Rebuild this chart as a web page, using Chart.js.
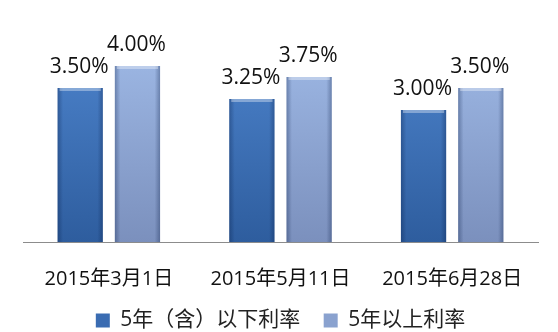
<!DOCTYPE html>
<html>
<head>
<meta charset="utf-8">
<script src="https://cdn.jsdelivr.net/npm/chart.js@4"></script>
<style>
  html, body { margin: 0; padding: 0; background: #fff; }
  #wrap { width: 558px; height: 332px; }
</style>
</head>
<body>
<div id="wrap"><canvas id="rateChart" width="558" height="332"></canvas></div>
<script>
// Data
const dates = ['2015年3月1日', '2015年5月11日', '2015年6月28日'];
const seriesNames = ['5年（含）以下利率', '5年以上利率'];
const shortRates = [3.50, 3.25, 3.00];
const longRates = [4.00, 3.75, 3.50];

const FONT = '"Open Sans", "Noto Sans CJK SC", sans-serif';

// vertical gradient over the plot area: lighter at the top
function barFill(ctx, top, bottom) {
    const area = ctx.chart.chartArea;
    if (!area) return bottom;
    const g = ctx.chart.ctx.createLinearGradient(0, area.top + 40, 0, area.bottom);
    g.addColorStop(0, top);
    g.addColorStop(1, bottom);
    return g;
}

// value labels above bars + bevel shading on the edges
const valueLabels = {
    id: 'valueLabels',
    afterDatasetsDraw(chart) {
        const c = chart.ctx;
        chart.data.datasets.forEach((ds, i) => {
            chart.getDatasetMeta(i).data.forEach((bar, j) => {
                const left = bar.x - bar.width / 2;
                const h = bar.base - bar.y;
                c.save();
                // side shading
                const g = c.createLinearGradient(left, 0, left + bar.width, 0);
                g.addColorStop(0, 'rgba(0,20,60,0.30)');
                g.addColorStop(0.12, 'rgba(0,20,60,0)');
                g.addColorStop(0.88, 'rgba(0,20,60,0)');
                g.addColorStop(1, 'rgba(0,20,60,0.30)');
                c.fillStyle = g;
                c.fillRect(left, bar.y, bar.width, h);
                // top bevel
                c.fillStyle = 'rgba(255,255,255,0.35)';
                c.fillRect(left + 2, bar.y, bar.width - 4, 3);
                c.restore();

                c.save();
                c.font = '21px ' + FONT;
                c.fillStyle = '#111';
                c.textAlign = 'center';
                c.textBaseline = 'alphabetic';
                c.fillText(ds.data[j].toFixed(2) + '%', bar.x - 1, bar.y - 15);
                c.restore();
            });
        });
    }
};

new Chart(document.getElementById('rateChart'), {
    type: 'bar',
    data: {
        labels: dates,
        datasets: [
            {
                label: seriesNames[0],
                data: shortRates,
                backgroundColor: ctx => barFill(ctx, '#4a80c8', '#2e5d9e'),
                borderWidth: 0
            },
            {
                label: seriesNames[1],
                data: longRates,
                backgroundColor: ctx => barFill(ctx, '#9bb5e2', '#7b90bd'),
                borderWidth: 0
            }
        ]
    },
    plugins: [valueLabels],
    options: {
        responsive: false,
        animation: false,
        devicePixelRatio: 1,
        categoryPercentage: 0.667,
        barPercentage: 0.79,
        layout: { padding: { left: 23, right: 20, top: 22, bottom: -9 } },
        scales: {
            x: {
                grid: { display: false, drawTicks: false },
                border: { display: true, color: '#8c8c8c', width: 1 },
                ticks: {
                    color: '#111',
                    font: { family: FONT, size: 20 },
                    padding: 25
                },
                afterFit(scale) { scale.height = 61; }
            },
            y: {
                display: false,
                min: 0,
                max: 5
            }
        },
        plugins: {
            tooltip: { enabled: false },
            legend: {
                position: 'bottom',
                labels: {
                    color: '#222',
                    font: { family: FONT, size: 21 },
                    boxWidth: 14,
                    boxHeight: 14,
                    padding: 7,
                    generateLabels(chart) {
                        const cols = ['#3a6cb2', '#8aa2cf'];
                        return chart.data.datasets.map((ds, i) => ({
                            text: i === 0 ? ds.label + '   ' : ds.label,
                            fillStyle: cols[i],
                            strokeStyle: cols[i],
                            lineWidth: 0,
                            datasetIndex: i,
                            hidden: false,
                            fontColor: '#222'
                        }));
                    }
                }
            }
        }
    }
});
</script>
</body>
</html>
